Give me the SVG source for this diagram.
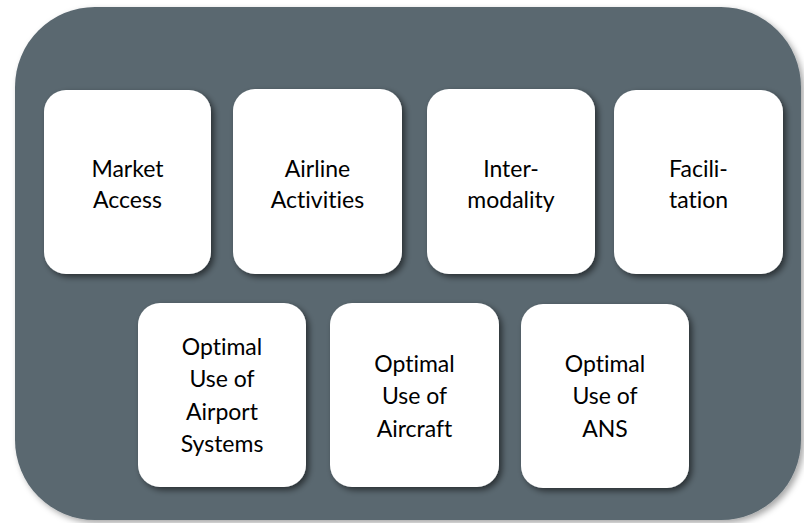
<svg xmlns="http://www.w3.org/2000/svg" width="804" height="523" viewBox="0 0 804 523">
<defs>
<filter id="bgShadow" x="-5%" y="-5%" width="112%" height="112%">
<feDropShadow dx="3" dy="3" stdDeviation="3" flood-color="#000" flood-opacity="0.35"/>
</filter>
<filter id="boxShadow" x="-10%" y="-10%" width="125%" height="125%">
<feDropShadow dx="3" dy="3" stdDeviation="3" flood-color="#000" flood-opacity="0.55"/>
</filter>
</defs>
<style>
.bg{fill:#5a6870;filter:url(#bgShadow);}
.box{fill:#ffffff;filter:url(#boxShadow);}
.lbl{font-family:Lato,"Open Sans","Liberation Sans",sans-serif;font-size:23px;fill:#000;text-anchor:middle;font-variant-ligatures:none;font-feature-settings:"liga" 0,"clig" 0;}
</style>
<rect class="bg" x="15" y="7" width="786" height="513" rx="80" ry="80"/>
<g id="connectors"></g>
<g id="market-access">
<rect class="box" x="44" y="90" width="167" height="184" rx="22"/>
<text class="lbl" x="127.5" y="177">Market</text>
<text class="lbl" x="127.5" y="208">Access</text>
</g>
<g id="airline-activities">
<rect class="box" x="233" y="89" width="169" height="185" rx="22"/>
<text class="lbl" x="317.5" y="177">Airline</text>
<text class="lbl" x="317.5" y="208">Activities</text>
</g>
<g id="intermodality">
<rect class="box" x="427" y="89" width="168" height="185" rx="22"/>
<text class="lbl" x="511" y="177">Inter-</text>
<text class="lbl" x="511" y="208">modality</text>
</g>
<g id="facilitation">
<rect class="box" x="614" y="90" width="169" height="184" rx="22"/>
<text class="lbl" x="698.5" y="177">Facili-</text>
<text class="lbl" x="698.5" y="208">tation</text>
</g>
<g id="optimal-airport">
<rect class="box" x="138" y="303" width="168" height="184" rx="22"/>
<text class="lbl" x="222" y="355">Optimal</text>
<text class="lbl" x="222" y="387">Use of</text>
<text class="lbl" x="222" y="420">Airport</text>
<text class="lbl" x="222" y="452">Systems</text>
</g>
<g id="optimal-aircraft">
<rect class="box" x="330" y="303" width="169" height="184" rx="22"/>
<text class="lbl" x="414.5" y="372">Optimal</text>
<text class="lbl" x="414.5" y="404">Use of</text>
<text class="lbl" x="414.5" y="437">Aircraft</text>
</g>
<g id="optimal-ans">
<rect class="box" x="521" y="304" width="168" height="184" rx="22"/>
<text class="lbl" x="605" y="372">Optimal</text>
<text class="lbl" x="605" y="404">Use of</text>
<text class="lbl" x="605" y="437">ANS</text>
</g>
</svg>
